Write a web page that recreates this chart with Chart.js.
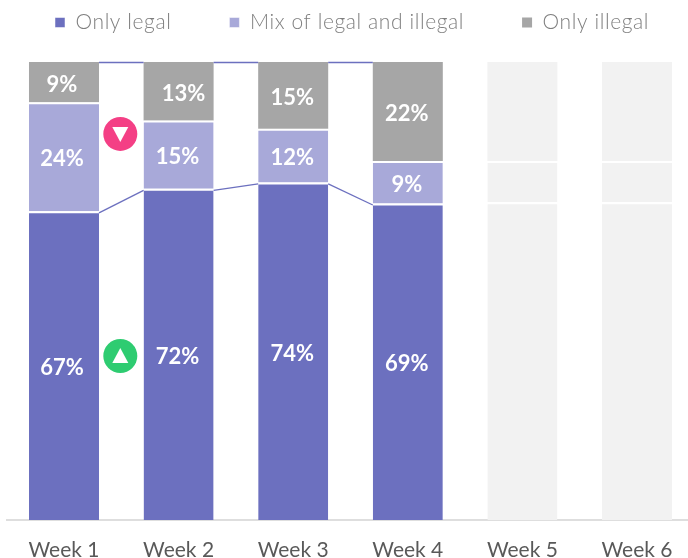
<!DOCTYPE html>
<html><head><meta charset="utf-8">
<style>html,body{margin:0;padding:0;background:#fff;overflow:hidden;width:688px;height:558px}canvas{display:block}</style>
<script src="https://cdn.jsdelivr.net/npm/chart.js@4"></script>
</head><body><canvas id="c" width="700" height="558"></canvas>
<script>
const categories=['Week 1','Week 2','Week 3','Week 4','Week 5','Week 6'];
const onlyLegal=[67.4,72.3,73.7,69.1,null,null];
const mixLegalIllegal=[23.8,14.9,11.7,9.3,null,null];
const onlyIllegal=[8.8,12.8,14.6,21.6,null,null];
const onlyLegalLabels=['67%','72%','74%','69%'];
const mixLabels=['24%','15%','12%','9%'];
const illegalLabels=['9%','13%','15%','22%'];
const futureLegal=[null,null,null,null,69.4,69.4];
const futureMix=[null,null,null,null,9,9];
const futureIllegal=[null,null,null,null,21.6,21.6];
const badges=[{between:0.5,value:84.3,color:'#f43f85',dir:'down'},{between:0.5,value:35.8,color:'#2ecc71',dir:'up'}];
const labelFont='"Lato"';
const seg=(label,data,color,top)=>({label,data,backgroundColor:color,borderColor:'#fff',borderWidth:{top:top,left:0,right:0,bottom:0},borderSkipped:false,stack:'s',categoryPercentage:1,barPercentage:0.611});
const helper={id:'helper',
 beforeInit(chart){
  const lg=chart.legend,f=lg.fit,d=lg._draw;
  lg.fit=function(){this.maxWidth=900;f.call(this);this.width=700;this.height=62;};
  lg._draw=function(){const x=chart.ctx,l=this.left,r=this.right;x.save();x.translate(0,-46);x.letterSpacing='0.6px';this.left=-3;this.right=900;d.call(this);this.left=l;this.right=r;x.restore();};
 },
 afterDatasetsDraw(chart){
  const ctx=chart.ctx,xS=chart.scales.x,yS=chart.scales.y;
  ctx.save();
  ctx.strokeStyle='#6c70bf';ctx.lineWidth=1.3;
  [[0,1.5],[2,0.5]].forEach(([di,off])=>{const m=chart.getDatasetMeta(di).data;
   for(let i=0;i<3;i++){const a=m[i],b=m[i+1];ctx.beginPath();ctx.moveTo(a.x+a.width/2,a.y+off);ctx.lineTo(b.x-b.width/2,b.y+off);ctx.stroke();}
  });
  [[0,onlyLegalLabels],[1,mixLabels],[2,illegalLabels]].forEach(([di,labs])=>{
   const m=chart.getDatasetMeta(di).data;
   ctx.fillStyle='#fff';ctx.font='700 22px '+labelFont;ctx.textAlign='center';ctx.textBaseline='middle';
   labs.forEach((t,i)=>{const e=m[i];const nudge=(di===2&&i===1)?5:(i===0?-2:-1);ctx.fillText(t,e.x+nudge,(e.y+e.base)/2+2.5);});
  });
  badges.forEach(b=>{
   const x=xS.getPixelForValue(b.between)-1,y=yS.getPixelForValue(b.value);
   ctx.fillStyle=b.color;ctx.beginPath();ctx.arc(x,y,17,0,Math.PI*2);ctx.fill();
   ctx.fillStyle='#fff';ctx.beginPath();
   const s=b.dir==='up'?-1:1;
   ctx.moveTo(x-8,y-7*s);ctx.lineTo(x+8,y-7*s);ctx.lineTo(x,y+8*s);ctx.closePath();ctx.fill();
  });
  ctx.restore();
 }};
new Chart(document.getElementById('c'),{type:'bar',
 data:{labels:categories,datasets:[
  seg('Only legal',onlyLegal,'#6c70bf',2),
  seg('Mix of legal and illegal',mixLegalIllegal,'#a8a9d9',2),
  seg('Only illegal',onlyIllegal,'#a6a6a6',0),
  seg('future1',futureLegal,'#f2f2f2',2),
  seg('future2',futureMix,'#f2f2f2',2),
  seg('future3',futureIllegal,'#f2f2f2',0)]},
 plugins:[helper],
 options:{responsive:false,animation:false,
  layout:{padding:{left:6.7,right:5.7,top:0,bottom:0}},
  plugins:{tooltip:{enabled:false},
   legend:{display:true,position:'top',align:'start',
    labels:{boxWidth:10,boxHeight:10,padding:58,color:'#7f7f7f',font:{family:labelFont,size:21,weight:'300'},
     filter:i=>!i.text.startsWith('future')}}},
  scales:{
   x:{stacked:true,grid:{display:false,drawTicks:false},border:{display:true,color:'#dedede',width:2},
    afterFit(s){s.height=38;},
    ticks:{color:'#595959',font:{family:labelFont,size:21},padding:18,maxRotation:0,autoSkip:false}},
   y:{stacked:true,display:false,min:0,max:100}}}});
</script></body></html>
